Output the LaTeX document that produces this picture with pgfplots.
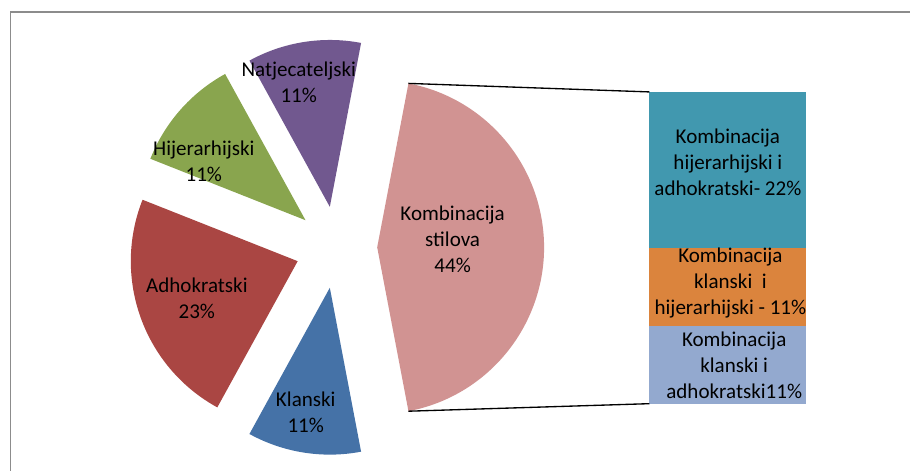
\documentclass[border=0pt]{standalone}
\usepackage{pgfplots}
\pgfplotsset{compat=1.18}
\usepackage{pgfplotstable}
\usepackage{fontspec}
\setmainfont{Carlito}

\definecolor{cKla}{HTML}{4572A7}
\definecolor{cAdh}{HTML}{AA4643}
\definecolor{cHij}{HTML}{89A54E}
\definecolor{cNat}{HTML}{71588F}
\definecolor{cHA}{HTML}{4198AF}
\definecolor{cKH}{HTML}{DB843D}
\definecolor{cKA}{HTML}{93A9CF}
\definecolor{cKomb}{HTML}{D19392}

% pie: shares in percent
\pgfplotstableread{
name value
Natjecateljski 11
Hijerarhijski 11
Adhokratski 23
Klanski 11
}\piedata

% bar of pie: parts of "Kombinacija stilova"
\pgfplotstableread{
x KA KH HA
0 11 11 22
}\bardata

% one exploded slice: start angle, end angle, colour
\newcommand\slice[3]{%
  \fill[#3] (axis cs:{336.5+41*cos((#1+#2)/2)},{223.5+41*sin((#1+#2)/2)})
    -- ++(#1:125.25pt) arc[start angle=#1, end angle=#2, radius=125.25pt] -- cycle;}

\begin{document}
\begin{tikzpicture}[lbl/.style={align=center, text=black, inner sep=0pt,
    font=\fontsize{15.8}{19.5}\selectfont}]
\pgfplotstablegetelem{0}{value}\of\piedata \let\vNat\pgfplotsretval
\pgfplotstablegetelem{1}{value}\of\piedata \let\vHij\pgfplotsretval
\pgfplotstablegetelem{2}{value}\of\piedata \let\vAdh\pgfplotsretval
\pgfplotstablegetelem{3}{value}\of\piedata \let\vKla\pgfplotsretval
\pgfplotstablegetelem{0}{KA}\of\bardata \let\bKA\pgfplotsretval
\pgfplotstablegetelem{0}{KH}\of\bardata \let\bKH\pgfplotsretval
\pgfplotstablegetelem{0}{HA}\of\bardata \let\bHA\pgfplotsretval
\pgfmathtruncatemacro\vKomb{\bKA+\bKH+\bHA}
\pgfmathsetmacro\aZero{\vKomb*1.8}
\pgfmathsetmacro\aNat{\aZero+\vNat*3.6}
\pgfmathsetmacro\aHij{\aNat+\vHij*3.6}
\pgfmathsetmacro\aAdh{\aHij+\vAdh*3.6}
\pgfmathsetmacro\aKla{\aAdh+\vKla*3.6}
\begin{axis}[name=pie, at={(0pt,0pt)}, anchor=south west, x=0.75pt, y=0.75pt,
  xmin=0, xmax=911, ymin=0, ymax=471, hide axis, clip=false]
\path (axis cs:0,0) rectangle (axis cs:911,471);
\draw[color=black!45, line width=1.1pt] (axis cs:10.5,0) -- (axis cs:10.5,459) -- (axis cs:911,459);
\slice{-\aZero}{\aZero}{cKomb}
\slice{\aZero}{\aNat}{cNat}
\slice{\aNat}{\aHij}{cHij}
\slice{\aHij}{\aAdh}{cAdh}
\slice{\aAdh}{\aKla}{cKla}
\coordinate (ktop) at (axis cs:{377.5+167*cos(\aZero)},{223.5+167*sin(\aZero)});
\coordinate (kbot) at (axis cs:{377.5+167*cos(\aZero)},{223.5-167*sin(\aZero)});
\node[lbl] at (axis cs:299,389) {Natjecateljski\\\vNat\%};
\node[lbl] at (axis cs:204,310) {Hijerarhijski\\\vHij\%};
\node[lbl] at (axis cs:197,172.5) {Adhokratski\\\vAdh\%};
\node[lbl] at (axis cs:306,58) {Klanski\\\vKla\%};
\node[lbl] at (axis cs:453,232) {Kombinacija\\stilova\\\vKomb\%};
\end{axis}
\begin{axis}[name=bar, at={(487.5pt,50.25pt)}, anchor=south west, scale only axis,
  width=117.75pt, height=234pt, xmin=-0.5, xmax=0.5, ymin=0, ymax=44,
  hide axis, clip=false, ybar stacked, bar width=117.75pt]
\addplot[fill=cKA, draw=none] table[x=x, y=KA] {\bardata};
\addplot[fill=cKH, draw=none] table[x=x, y=KH] {\bardata};
\addplot[fill=cHA, draw=none] table[x=x, y=HA] {\bardata};
\coordinate (lHA) at (rel axis cs:0.5,{34.1/44});
\coordinate (lKH) at (rel axis cs:0.516,{17.1/44});
\coordinate (lKA) at (rel axis cs:0.54,{5.4/44});
\end{axis}
\draw[line width=1pt] (ktop) -- (bar.north west);
\draw[line width=1pt] (kbot) -- (bar.south west);
\node[lbl] at (lHA) {Kombinacija\\hijerarhijski i\\adhokratski- 22\%};
\node[lbl] at (lKH) {Kombinacija\\klanski\ \ i\\hijerarhijski - 11\%};
\node[lbl] at (lKA) {Kombinacija\\klanski i\\adhokratski11\%};
\end{tikzpicture}
\end{document}
